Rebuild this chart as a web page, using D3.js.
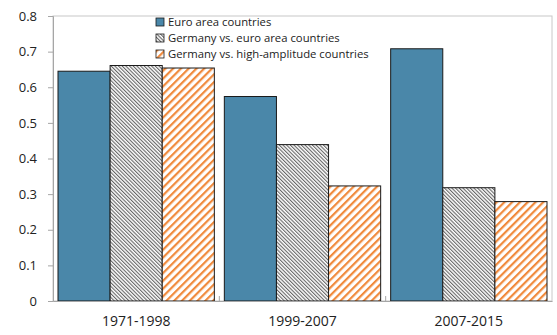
<!DOCTYPE html>
<html>
<head>
<meta charset="utf-8">
<script src="https://cdn.jsdelivr.net/npm/d3@7"></script>
<style>
  body { margin: 0; background: #fff; }
  text { font-family: "Open Sans", sans-serif; fill: #222; }
</style>
</head>
<body>
<div id="chart"></div>
<script>
// categories and series values
var periods = ["1971-1998", "1999-2007", "2007-2015"];
var seriesNames = ["Euro area countries", "Germany vs. euro area countries", "Germany vs. high-amplitude countries"];
var euroArea = [0.645, 0.574, 0.708];
var germanyEuro = [0.661, 0.439, 0.318];
var germanyHigh = [0.654, 0.323, 0.279];
var yTicks = [0, 0.1, 0.2, 0.3, 0.4, 0.5, 0.6, 0.7, 0.8];

var seriesValues = [euroArea, germanyEuro, germanyHigh];

var W = 557, H = 335;
var margin = {top: 16, right: 5, bottom: 34, left: 53},
    width = W - margin.left - margin.right,
    height = H - margin.top - margin.bottom;

var svg = d3.select("#chart").append("svg")
    .attr("width", W).attr("height", H);

// patterns
var defs = svg.append("defs");
var pGray = defs.append("pattern")
    .attr("id", "hatchGray").attr("patternUnits", "userSpaceOnUse")
    .attr("width", 2.6).attr("height", 2.6)
    .attr("patternTransform", "rotate(-45)");
pGray.append("rect").attr("width", 2.6).attr("height", 2.6).attr("fill", "#fff");
pGray.append("rect").attr("x", 0).attr("width", 1.1).attr("height", 2.6).attr("fill", "#666");

var pOrange = defs.append("pattern")
    .attr("id", "hatchOrange").attr("patternUnits", "userSpaceOnUse")
    .attr("width", 5.5).attr("height", 5.5)
    .attr("patternTransform", "rotate(45)");
pOrange.append("rect").attr("width", 5.5).attr("height", 5.5).attr("fill", "#fff");
pOrange.append("rect").attr("x", 0).attr("width", 2.2).attr("height", 5.5).attr("fill", "#f08a3c");

var fills = ["#4a87a9", "url(#hatchGray)", "url(#hatchOrange)"];

var g = svg.append("g").attr("transform", "translate(" + margin.left + "," + margin.top + ")");

var x0 = d3.scaleBand().domain(periods).range([0, width]).padding(0);
var x1 = d3.scaleBand().domain(d3.range(seriesNames.length))
    .range([5, x0.bandwidth() - 5]).padding(0);
var y = d3.scaleLinear().domain([0, 0.8]).range([height, 0]);

// frame
g.append("rect").attr("x", 0).attr("y", 0).attr("width", width).attr("height", height)
    .attr("fill", "none").attr("stroke", "#c8c8c8").attr("stroke-width", 1);

// bars
var groups = g.selectAll(".grp").data(periods).enter().append("g")
    .attr("transform", function(d) { return "translate(" + x0(d) + ",0)"; });
groups.selectAll("rect")
    .data(function(d, i) { return seriesValues.map(function(s, k) { return {k: k, v: s[i]}; }); })
    .enter().append("rect")
    .attr("x", function(d) { return x1(d.k); })
    .attr("width", x1.bandwidth())
    .attr("y", function(d) { return y(d.v); })
    .attr("height", function(d) { return height - y(d.v); })
    .attr("fill", function(d) { return fills[d.k]; })
    .attr("stroke", "#1a1a1a").attr("stroke-width", 1);

// y axis
var yAxis = g.append("g")
    .call(d3.axisLeft(y).tickValues(yTicks).tickFormat(function(d) { return d === 0 ? "0" : d3.format(".1f")(d); })
        .tickSize(5).tickPadding(11));
yAxis.select(".domain").attr("stroke", "#a6a6a6");
yAxis.selectAll(".tick line").attr("stroke", "#a6a6a6");
yAxis.selectAll("text").style("font-size", "13px").attr("fill", "#222");

// x axis
var xAxis = g.append("g").attr("transform", "translate(0," + height + ")")
    .call(d3.axisBottom(x0).tickSize(0).tickPadding(15));
xAxis.select(".domain").attr("stroke", "#a6a6a6");
xAxis.selectAll("text").style("font-size", "14px").attr("fill", "#222");
// category separators
g.selectAll(".sep").data(periods.slice(1)).enter().append("line")
    .attr("x1", function(d) { return x0(d); }).attr("x2", function(d) { return x0(d); })
    .attr("y1", height).attr("y2", height - 5)
    .attr("stroke", "#a6a6a6");

// legend
var legend = g.selectAll(".leg").data(seriesNames).enter().append("g")
    .attr("transform", function(d, i) { return "translate(103," + (2 + i * 16) + ")"; });
legend.append("rect").attr("width", 8).attr("height", 8)
    .attr("fill", function(d, i) { return fills[i]; })
    .attr("stroke", "#1a1a1a").attr("stroke-width", 0.8);
legend.append("text").attr("x", 12).attr("y", 4).attr("dy", "0.35em")
    .style("font-size", "11.3px").text(function(d) { return d; });
</script>
</body>
</html>
